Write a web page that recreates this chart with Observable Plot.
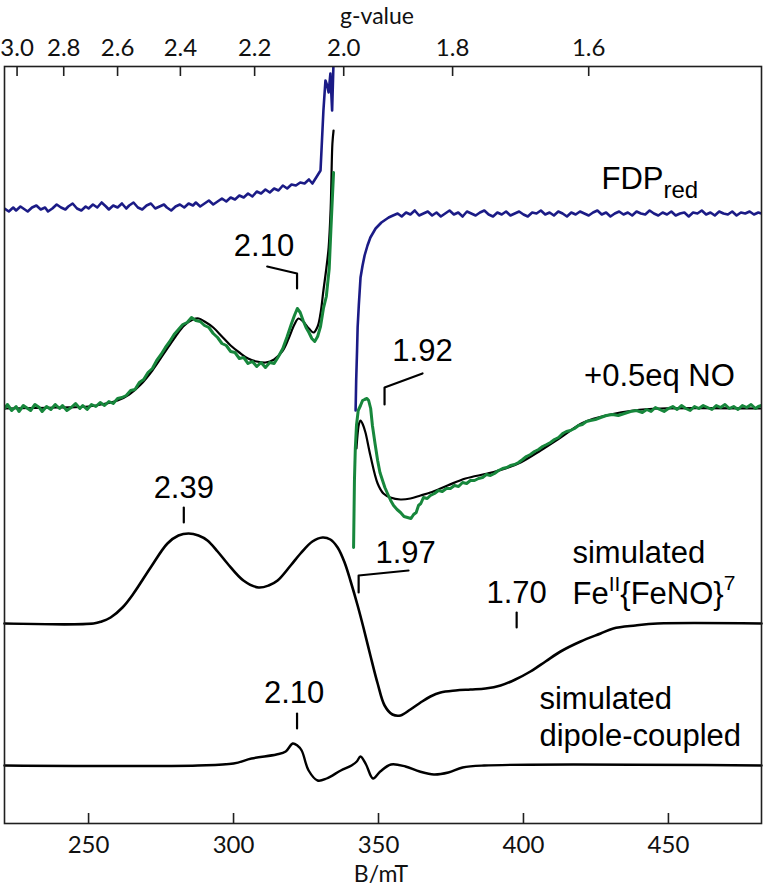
<!DOCTYPE html>
<html><head><meta charset="utf-8">
<script src="https://cdn.jsdelivr.net/npm/d3@7"></script>
<script src="https://cdn.jsdelivr.net/npm/@observablehq/plot@0.6"></script>
<style>html,body{margin:0;padding:0;background:#fff;}</style>
</head><body><div id="chart"></div>
<script>
// ---------------- DATA (B in mT, intensity in arbitrary units) ----------------
const gFactorField = 676;               // B·g product (mT)
const bTicks = [250, 300, 350, 400, 450];
const gTicks = [3.0, 2.8, 2.6, 2.4, 2.2, 2.0, 1.8, 1.6];

// FDPred (blue) – low-field part up to the off-scale peak
const fdpLow = [[221,2],[222.5,-1],[224,3],[225,0],[226.5,4],[228,1],[229,-1],[230.5,3],[232,5],[233.5,1],[235,3],[236,-1],[237.5,2],[239,6],[240.5,3],[242,1],[243,4],[244.5,7],[246,2],[247.5,0],[249,4],[250,2],[251.5,6],[253,3],[254.5,8],[256,4],[257,1],[258.5,5],[260,3],[261.5,7],[263,2],[264,5],[265.5,8],[267,3],[268.5,1],[270,5],[271.5,7],[273,2],[274.5,4],[276,6],[277,3],[278.5,0],[280,4],[281.5,6],[283,3],[284.5,7],[286,5],[287,8],[288.5,4],[290,7],[291.5,10],[293,6],[294.5,9],[296,12],[297.5,9],[299,13],[300.5,11],[302,15],[303.5,13],[305,17],[306.5,14],[308,19],[309.5,17],[311,21],[312.5,18],[314,22],[315.5,20],[317,25],[318.5,22],[320,26],[321.5,25],[323,28],[324.5,27],[326,31],[327.2,27],[328.5,33],[330,40],[330.5,70],[331,100],[331.7,130],[332.3,125],[332.8,118],[333.4,137],[334,100],[334.5,150],[334.8,200]];
// FDPred (blue) – high-field part from its minimum
const fdpHigh = [[342.1,-200],[342.3,-170],[342.6,-140],[342.8,-117],[343.2,-95],[343.8,-67],[344.5,-55],[345.2,-45],[346.2,-35],[347.2,-27],[348.2,-22],[349,-18],[350,-15],[351,-12],[352,-10],[353.5,-7],[355,-5],[356.6,-3],[358,-6],[359.5,-2],[361,-4],[362.5,0],[364,-5],[365.5,-3],[367,-1],[368.5,-5],[370,-2],[371.5,-6],[373,-3],[374.5,0],[376,-4],[377.5,-2],[379,-6],[380.5,-1],[382,-3],[383.5,-5],[385,-2],[386.5,0],[388,-4],[389.5,-6],[391,-2],[392.5,-4],[394,-1],[395.5,-5],[397,-3],[398.5,-1],[400,-4],[401.5,-6],[403,-2],[404.5,-3],[406,0],[407.5,-4],[409,-2],[410.5,-5],[412,-1],[413.5,-3],[415,-6],[416.5,-2],[418,-4],[419.5,-1],[421,-3],[422.5,-5],[424,-2],[425.5,0],[427,-4],[428.5,-2],[430,-6],[431.5,-3],[433,-1],[434.5,-4],[436,-2],[437.5,-5],[439,-1],[440.5,-3],[442,-4],[443.5,0],[445,-3],[446.5,-5],[448,-2],[449.5,-4],[451,-1],[452.5,-5],[454,-3],[455.5,-2],[457,-6],[458.5,-2],[460,-3],[461.5,0],[463,-4],[464.5,-2],[466,-5],[467.5,-1],[469,-3],[470.5,-4],[472,-1],[473.5,-5],[475,-2],[476.5,-3],[478,-1],[479.5,-4],[481,-2],[482.1,-3]];

// +0.5 eq NO (green, experimental)
const noLow = [[221,0],[222,4],[223.5,-2],[225,2],[226,-3],[227.5,3],[229,0],[230,-2],[231.5,4],[233,1],[234,-3],[235.5,2],[237,-1],[238.5,4],[240,0],[241,3],[242.5,-2],[244,1],[245.5,5],[247,0],[248,3],[249.5,-1],[251,4],[252.5,2],[254,6],[255.5,3],[257,7],[258.5,5],[260,10],[261.5,11],[263,13],[264.5,18],[266,19],[267.5,26],[269,29],[270.5,36],[272,40],[273.5,48],[275,54],[276.5,61],[278,67],[279.5,74],[281,79],[282.5,84],[284,86],[285.5,91],[287,88],[288.5,87],[290,83],[291.5,81],[293,75],[294.5,71],[296,65],[297.5,63],[299,57],[300.5,56],[302,50],[303.5,51],[305,45],[306.5,47],[308,42],[309.5,46],[311,41],[312.5,46],[314,45],[315.5,52],[317,60],[318.5,72],[320,85],[321,93],[322,100],[323,96],[324,88],[325,81],[326,76],[327,70],[328,67],[329,72],[330,82],[331,100],[332,112],[333,140],[333.6,180],[334.5,236]];
const noHigh = [[341.4,-139],[341.7,-72],[342,-40],[342.4,-17],[343,-2],[343.8,3],[344.5,8],[345.2,9],[346,10],[346.6,8],[347.3,0],[347.9,-17],[348.8,-35],[349.7,-52],[350.5,-64],[351.4,-72],[352.2,-79],[353.1,-85],[354.2,-92],[355.2,-97],[356.4,-101],[357.6,-104],[358.8,-108],[360,-109],[361.2,-110],[362.1,-106],[363,-104],[363.8,-97],[364.6,-95],[365.5,-89],[366.8,-90],[367.9,-87],[369.3,-85],[370.7,-82],[372,-83],[373.4,-80],[374.8,-80],[376.2,-77],[377.6,-78],[379,-74],[380.4,-75],[381.7,-72],[383.1,-72],[384.5,-70],[385.9,-69],[387.2,-66],[388.6,-67],[390,-65],[391.4,-62],[392.8,-60],[394.2,-59],[395.5,-57],[396.9,-56],[398.3,-54],[399.7,-51],[401,-48],[402.4,-46],[403.8,-43],[405.2,-41],[406.6,-38],[408,-36],[409.3,-34],[410.7,-31],[412.1,-29],[413.5,-25],[414.8,-23],[416.2,-22],[417.6,-20],[419,-17],[420.3,-16],[421.7,-13],[423.1,-12],[424.8,-11],[426.6,-9],[428.6,-7],[430.7,-6],[432.7,-7],[434.8,-5],[436.9,-3],[439,-2],[441,-4],[442.5,-1],[444,-3],[445.5,1],[447,-1],[448.5,-3],[450,0],[451.5,2],[453,-1],[454.5,3],[456,0],[457.5,-2],[459,2],[460.5,0],[462,3],[463.5,1],[465,-1],[466.5,3],[468,1],[469.5,4],[471,0],[472.5,2],[474,-1],[475.5,3],[477,1],[478.5,4],[480,0],[481,2],[482.1,3]];

// simulation overlaid on +0.5 eq NO (black)
const fitLow = [[221,0],[240,1],[250,2],[256,5],[260,8],[264,14],[268,24],[272,38],[276,55],[280,72],[283,83],[286,89],[288,90],[290,87],[293,81],[296,72],[299,63],[302,56],[305,50],[308,47],[311,46],[314,49],[317,58],[319,70],[321,84],[322.4,90],[324,87],[326,80],[327.6,76],[329,82],[330,95],[331,118],[332,140],[332.8,161],[333.5,200],[334.1,265],[334.5,278]];
const fitHigh = [[342.4,-40],[343.3,-15],[343.8,-12],[344.6,-16],[345.5,-24],[347.2,-47],[349.7,-75],[351.7,-85],[354.1,-89],[357.6,-91],[361,-90],[364.5,-87],[367.9,-84],[373.8,-77],[380,-70],[387.6,-65],[393.8,-60],[399,-54],[405.9,-42],[412.8,-29],[420.7,-14],[430,-6],[437.9,-2],[447.2,0],[482.1,0]];

// simulated Fe(II){FeNO}7
const simFeNO = [[221,0],[251.7,0],[254.5,2],[257.6,6],[261.7,16],[265.5,30],[271.4,56],[277.2,80],[281,88],[284.5,90],[287.9,88],[291,83],[294.5,72],[297.9,60],[303.4,43],[308.6,36],[312.1,38],[315.2,43],[319.7,58],[323.1,70],[327.2,82],[330.7,86],[333.4,84],[335.9,76],[338.3,61],[340.3,43],[342.8,18],[344.8,-4],[347.2,-32],[349.7,-60],[352.1,-82],[354.8,-91],[357.6,-92],[361,-86],[364.5,-79],[367.9,-73],[371.4,-69],[376.6,-67],[381.7,-66],[386.9,-65],[392.1,-62],[397.2,-56],[402.4,-48],[407.6,-38],[412.8,-28],[419.7,-18],[426.6,-10],[431,-5],[438.6,-2],[446.2,0],[482.1,0]];

// simulated dipole-coupled
const simDipole = [[221,0],[287.7,0],[300,2],[306.2,7],[314.8,11],[318,14],[320.4,22],[322,20],[323.5,15],[325.9,-5],[329,-15],[332.1,-13],[337,-5],[340.7,0],[342.5,4],[343.8,9],[345.7,1],[348.1,-13],[350.6,-6],[354.3,1],[359.3,-1],[364.2,-6],[369.1,-9],[374.1,-7],[379,-2],[386.4,0],[482.1,0]];

// peak annotations (g-values) and series labels
const peakG      = [2.10, 1.92, 2.39, 1.97, 1.70, 2.10];
const peakText   = ["2.10", "1.92", "2.39", "1.97", "1.70", "2.10"];
const seriesText = ["FDPred", "+0.5eq NO", "simulated", "FeII{FeNO}7", "simulated", "dipole-coupled"];

// ---------------- LAYOUT ----------------
const offsets = {fdp: 613, no: 415, feno: 200, dip: 58};   // vertical stacking (a.u.)
const leaderLayout = [
  {path: [[0,535],[0,550],[-10.3,557]], label: [-11.4,568]},
  {path: [[0,419],[0,436],[13.1,450]],  label: [13.1,463]},
  {path: [[0,301],[0,316]],             label: [0,326]},
  {path: [[0,231],[0,248],[17.2,253]],  label: [16.2,261]},
  {path: [[0,196],[0,211]],             label: [0,221]},
  {path: [[0,95],[0,110]],              label: [-1,121]}
];
const seriesLayout = [
  {B: 426.9, y: 635},
  {B: 446.9, y: 438},
  {B: 416.9, y: 261},
  {B: 416.9, y: 220},
  {B: 405.5, y: 115},
  {B: 405.5, y: 78}
];

function rows(pairs, off, seg) { return pairs.map(([B, v]) => ({B, y: v + off, seg})); }
const blue  = [...rows(fdpLow, offsets.fdp, "a"), ...rows(fdpHigh, offsets.fdp, "b")];
const green = [...rows(noLow, offsets.no, "a"), ...rows(noHigh, offsets.no, "b")];
const fit   = [...rows(fitLow, offsets.no, "a"), ...rows(fitHigh, offsets.no, "b")];
const feno  = rows(simFeNO, offsets.feno, "a");
const dip   = rows(simDipole, offsets.dip, "a");

const leaders = peakG.flatMap((g, i) => leaderLayout[i].path.map(([dB, y]) => ({B: gFactorField / g + dB, y, k: i})));
const peakLabels = peakG.map((g, i) => ({B: gFactorField / g + leaderLayout[i].label[0], y: leaderLayout[i].label[1], text: peakText[i]}));
const sLabels = seriesText.map((t, i) => ({...seriesLayout[i], text: t}));
const startLabels = sLabels.filter(d => d.text !== "+0.5eq NO");
const midLabels = sLabels.filter(d => d.text === "+0.5eq NO");

const axisFont = "Lato, 'Open Sans', sans-serif";
const annFont = "'Liberation Sans', Arial, sans-serif";
const ink = "#1f1f1f";

const chart = Plot.plot({
  width: 764, height: 886,
  marginTop: 66, marginBottom: 63, marginLeft: 4, marginRight: 3,
  x: {domain: [221, 482.1], axis: null},
  y: {domain: [0, 757], axis: null},
  style: {background: "#fff", color: "#000"},
  marks: [
    Plot.line(blue,  {x: "B", y: "y", z: "seg", stroke: "#1b1b86", strokeWidth: 2.6, clip: true}),
    Plot.line(fit,   {x: "B", y: "y", z: "seg", stroke: "#000", strokeWidth: 2.2, curve: "catmull-rom", clip: true}),
    Plot.line(green, {x: "B", y: "y", z: "seg", stroke: "#17873c", strokeWidth: 3, clip: true}),
    Plot.line(feno,  {x: "B", y: "y", stroke: "#000", strokeWidth: 2.6, curve: "catmull-rom"}),
    Plot.line(dip,   {x: "B", y: "y", stroke: "#000", strokeWidth: 2.4, curve: "catmull-rom"}),
    Plot.line(leaders, {x: "B", y: "y", z: "k", stroke: "#000", strokeWidth: 2.2}),
    Plot.text(peakLabels, {x: "B", y: "y", text: "text", fontSize: 31, fontFamily: annFont, lineAnchor: "bottom", fill: "#000"}),
    Plot.text(startLabels, {x: "B", y: "y", text: "text", textAnchor: "start", fontSize: 31, fontFamily: annFont, lineAnchor: "bottom", fill: "#000"}),
    Plot.text(midLabels, {x: "B", y: "y", text: "text", textAnchor: "middle", fontSize: 31, fontFamily: annFont, lineAnchor: "bottom", fill: "#000"}),
    Plot.frame({stroke: ink, strokeWidth: 1.6}),
    Plot.tickX(bTicks, {x: d => d, insetTop: 747, stroke: ink, strokeWidth: 1.6}),
    Plot.tickX(gTicks, {x: g => gFactorField / g, insetBottom: 747, stroke: ink, strokeWidth: 1.6}),
    Plot.text(bTicks, {x: d => d, text: d => String(d), frameAnchor: "bottom", lineAnchor: "bottom", dy: 29, fontSize: 24, fontFamily: axisFont, fill: "#111"}),
    Plot.text(gTicks, {x: g => gFactorField / g, text: g => g.toFixed(1), frameAnchor: "top", lineAnchor: "bottom", dy: -11, fontSize: 24, fontFamily: axisFont, fill: "#111"}),
    Plot.text(["g-value"], {text: d => d, frameAnchor: "top", lineAnchor: "bottom", dy: -43, dx: -6, fontSize: 23, fontFamily: axisFont, fill: "#111"}),
    Plot.text(["B/mT"], {text: d => d, frameAnchor: "bottom", lineAnchor: "bottom", dy: 58, dx: -2, fontSize: 23, fontFamily: axisFont, fill: "#111"})
  ]
});

// rich text (subscript / superscripts)
chart.querySelectorAll("text").forEach(t => {
  if (t.textContent === "FDPred") t.innerHTML = 'FDP<tspan dy="9" font-size="24">red</tspan>';
  if (t.textContent === "FeII{FeNO}7") t.innerHTML = 'Fe<tspan dy="-13" font-size="21">II</tspan><tspan dy="13">{FeNO}</tspan><tspan dy="-14" font-size="21">7</tspan>';
});
document.getElementById("chart").appendChild(chart);
</script></body></html>
